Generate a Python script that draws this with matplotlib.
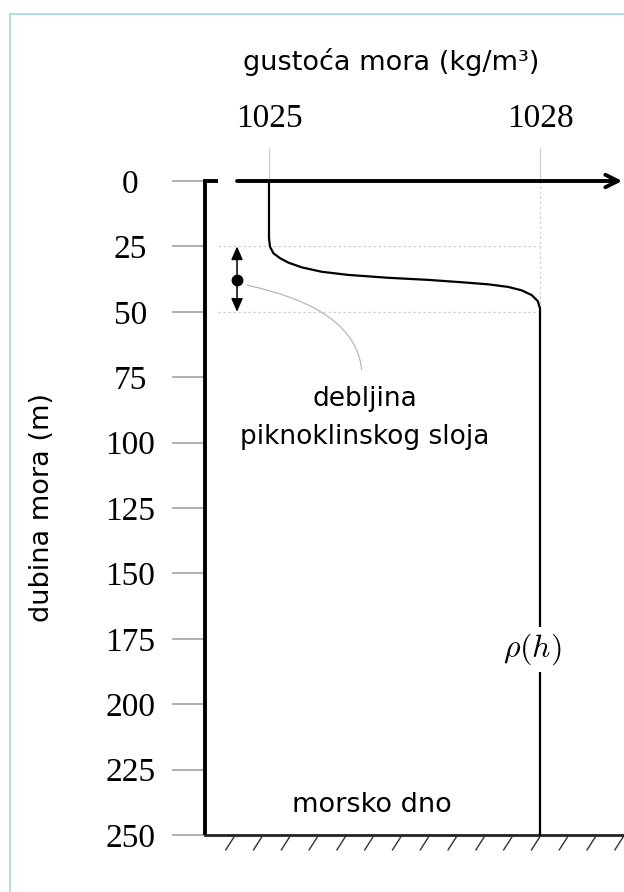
import numpy as np
import matplotlib
matplotlib.use("Agg")
import matplotlib.pyplot as plt
from matplotlib.path import Path
from matplotlib.patches import PathPatch
from matplotlib.collections import LineCollection

# values
depth_ticks = [0, 25, 50, 75, 100, 125, 150, 175, 200, 225, 250]
density_ticks = [1025, 1028]
profile_depth = [0, 21.9, 25.1, 27.6, 29.5, 31.2, 33.0, 34.7, 35.9, 37.0,
                 37.8, 38.7, 39.5, 40.5, 41.8, 43.6, 45.9, 48.7, 250]
profile_density = [1025.0, 1025.0, 1025.011, 1025.048, 1025.122, 1025.214,
                   1025.362, 1025.583, 1025.878, 1026.321, 1026.763,
                   1027.133, 1027.428, 1027.649, 1027.797, 1027.908,
                   1027.975, 1028.0, 1028.0]
layer_top = 25
layer_bottom = 50
layer_mid = 38
seabed = 250

SANS = ["DejaVu Sans"]
SERIF = "Liberation Serif"
plt.rcParams["mathtext.fontset"] = "cm"

fig = plt.figure(figsize=(6.24, 8.92), dpi=100)
ax = fig.add_axes((0, 0, 1, 1))
# map data onto pixels: 1025 -> x 269, 1028 -> x 540 ; 0 m -> y 181, 250 m -> y 835
ax.set_xlim(1022.022, 1028.930)
ax.set_ylim(271.79, -69.19)
ax.patch.set_visible(False)

x_axis = 1024.29   # left depth axis
x_stub = 1024.435  # end of the short corner stub
x_arrow = 1024.646
x_right = 1028.91

# frame of the page (top and left only)
fig.add_artist(plt.Line2D([10 / 624, 1], [1 - 14 / 892] * 2, color="#a6d6dd", lw=1.2))
fig.add_artist(plt.Line2D([10 / 624] * 2, [0, 1 - 14 / 892], color="#a6d6dd", lw=1.2))

# ticks through the real axes
for s in ["right", "bottom"]:
    ax.spines[s].set_visible(False)
ax.spines["left"].set_position(("data", x_axis))
ax.spines["left"].set_visible(False)
ax.spines["top"].set_position(("data", 0))
ax.spines["top"].set_visible(False)

ax.set_yticks(depth_ticks)
ax.set_yticklabels([str(d) for d in depth_ticks], family=SERIF, fontsize=24, ha="center")
ax.tick_params(axis="y", direction="out", length=23.8, width=1.1, color="#9a9a9a", pad=30)

ax.xaxis.tick_top()
ax.set_xticks(density_ticks)
ax.set_xticklabels([str(d) for d in density_ticks], family=SERIF, fontsize=24)
ax.tick_params(axis="x", length=0, pad=34)

# light guide lines
for xv in density_ticks:
    ax.plot([xv, xv], [-12.6, 0], color="#d0d0d0", lw=0.9)
ax.plot([1028, 1028], [0, layer_bottom], color="#cfcfcf", lw=0.9, ls=(0, (2, 2)))
for yv in [layer_top, layer_bottom]:
    ax.plot([x_stub, 1028], [yv, yv], color="#cfcfcf", lw=0.9, ls=(0, (2, 2)))

# axes drawn as lines
ax.plot([x_stub, x_axis, x_axis], [0, 0, seabed], color="black", lw=2.8,
        solid_joinstyle="miter", solid_capstyle="butt")
ax.plot([x_axis, x_right + 0.05], [seabed, seabed], color="#222222", lw=2.0)
ax.annotate("", xy=(x_right, 0), xytext=(x_arrow, 0),
            arrowprops=dict(arrowstyle="->,head_length=0.9,head_width=0.45",
                            lw=2.8, color="black", shrinkA=0, shrinkB=0))

# sea bed hatching
hx = np.arange(1024.62, 1029.1, 0.3077)
segs = [[(h, seabed + 0.35), (h - 0.103, seabed + 5.9)] for h in hx]
ax.add_collection(LineCollection(segs, colors="#333333", linewidths=1.0))

# density profile
ax.plot(profile_density, profile_depth, color="black", lw=1.6)

# thickness of the pycnocline
ax.annotate("", xy=(x_arrow, layer_top), xytext=(x_arrow, layer_mid),
            arrowprops=dict(arrowstyle="-|>,head_length=0.8,head_width=0.35",
                            lw=1.1, color="black", shrinkA=0, shrinkB=0))
ax.annotate("", xy=(x_arrow, layer_bottom), xytext=(x_arrow, layer_mid),
            arrowprops=dict(arrowstyle="-|>,head_length=0.8,head_width=0.35",
                            lw=1.1, color="black", shrinkA=0, shrinkB=0))
ax.plot([x_arrow], [layer_mid], "o", color="black", ms=7.5)

leader = Path([(1024.753, 39.8), (1025.961, 48.7), (1026.026, 72.2)],
              [Path.MOVETO, Path.CURVE3, Path.CURVE3])
ax.add_patch(PathPatch(leader, fill=False, edgecolor="#b0b0b0", lw=0.8))

ax.text(1026.06, 90.6, "debljina\npiknoklinskog sloja", ha="center", va="center",
        family=SANS, fontsize=19, linespacing=1.6)
ax.text(1026.14, 238.5, "morsko dno", ha="center", va="center", family=SANS, fontsize=19.5)
ax.text(1027.91, 179, r"$\rho(h)$", ha="center", va="center", fontsize=23,
        bbox=dict(boxstyle="square,pad=0.15", facecolor="white", edgecolor="none"))

fig.text(391 / 624, 1 - 62 / 892, "gustoća mora (kg/m³)", ha="center", va="center",
         family=SANS, fontsize=19.5)
fig.text(42 / 624, 1 - 508 / 892, "dubina mora (m)", ha="center", va="center",
         rotation=90, family=SANS, fontsize=19.5)

fig.savefig("out.png", dpi=100)
